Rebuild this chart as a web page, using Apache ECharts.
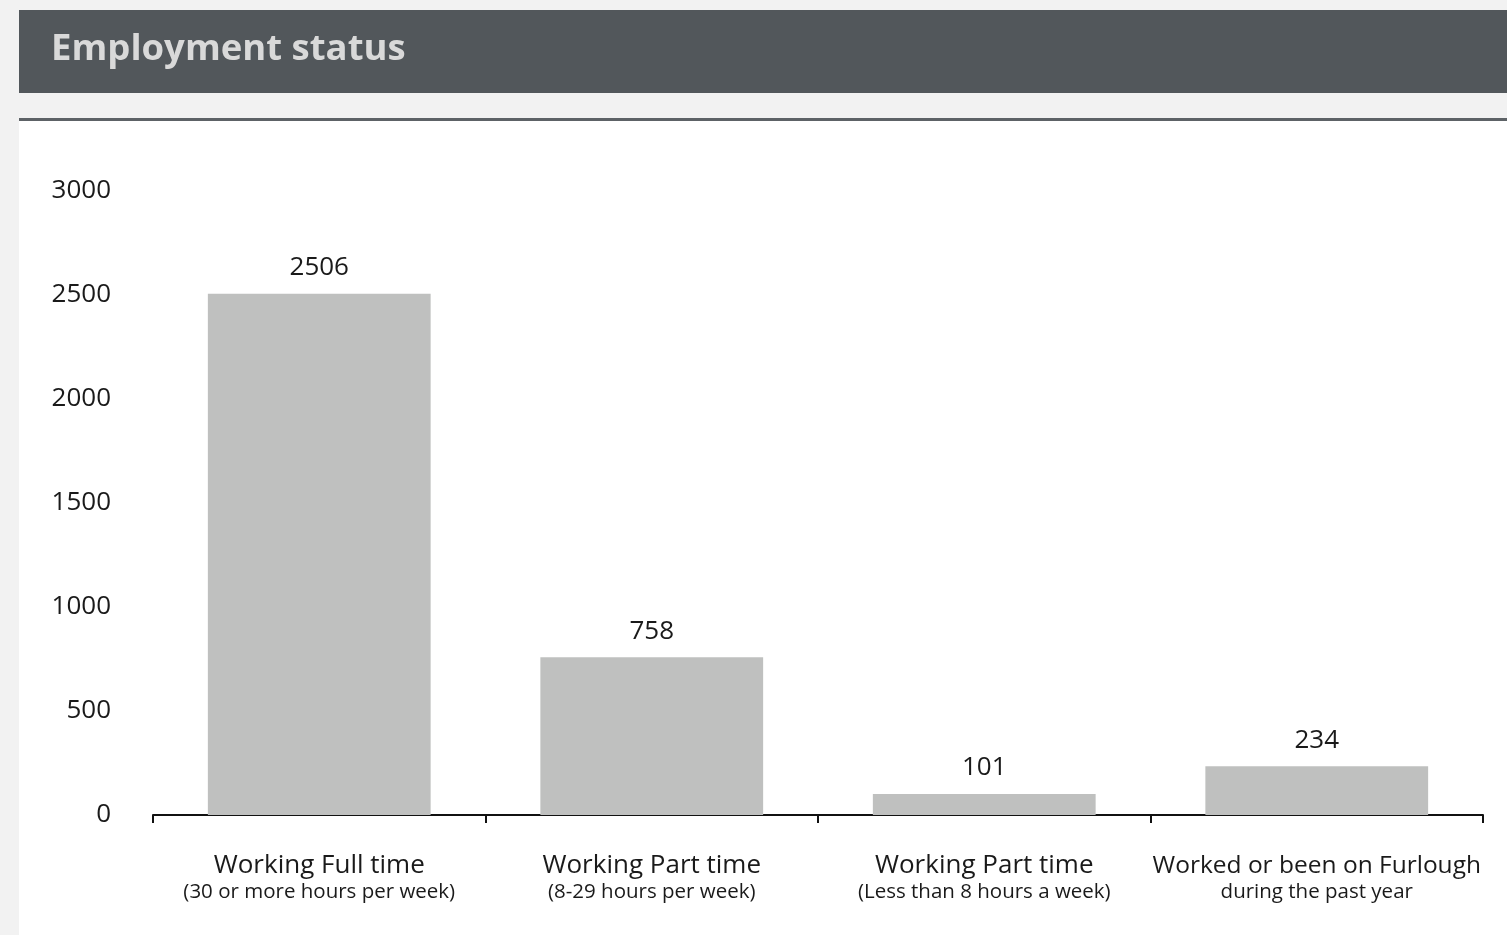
<!DOCTYPE html>
<html>
<head>
<meta charset="utf-8">
<script src="https://cdn.jsdelivr.net/npm/echarts@6/dist/echarts.min.js"></script>
<style>
html,body{margin:0;padding:0;background:#f2f2f2;}
#chart{width:1507px;height:935px;}
</style>
</head>
<body>
<div id="chart"></div>
<script>
const titleText = 'Employment status';
const categories = ['Working Full time', 'Working Part time', 'Working Part time', 'Worked or been on Furlough'];
const subLabels = ['(30 or more hours per week)', '(8-29 hours per week)', '(Less than 8 hours a week)', 'during the past year'];
const values = [2506, 758, 101, 234];
const yTicks = [0, 500, 1000, 1500, 2000, 2500, 3000];

const chart = echarts.init(document.getElementById('chart'), null, {renderer: 'canvas'});
const font = '"Open Sans", sans-serif';
chart.setOption({
  backgroundColor: '#f2f2f2',
  animation: false,
  graphic: [
    {type: 'rect', z: -10, shape: {x: 19, y: 10, width: 1488, height: 83}, style: {fill: '#52575b'}},
    {type: 'rect', z: -10, shape: {x: 19, y: 121, width: 1488, height: 814}, style: {fill: '#ffffff'}},
    {type: 'rect', z: -10, shape: {x: 19, y: 118, width: 1488, height: 3}, style: {fill: '#5d6266'}},
    {type: 'text', z: 10, left: 51, top: 31, style: {text: titleText, fill: '#d9d9d9', font: 'bold 36.5px "Open Sans", sans-serif'}}
  ],
  grid: {left: 153, right: 24, top: 191, bottom: 120, containLabel: false},
  xAxis: {
    type: 'category',
    data: categories.map((c, i) => c + '\n' + subLabels[i]),
    axisLine: {lineStyle: {color: '#111', width: 2}},
    axisTick: {show: true, alignWithLabel: false, length: 8, lineStyle: {color: '#111', width: 2}},
    axisLabel: {
      interval: 0,
      margin: 37,
      color: '#1a1a1a',
      fontFamily: font,
      formatter: function (v, i) {
        const p = v.split('\n');
        const key = p[0].length > 20 ? 'c' : 'a';
        return '{' + key + '|' + p[0] + '}\n{b|' + p[1] + '}';
      },
      rich: {
        a: {fontSize: 26, fontFamily: font, color: '#1a1a1a', lineHeight: 28},
        c: {fontSize: 24.5, fontFamily: font, color: '#1a1a1a', lineHeight: 28},
        b: {fontSize: 20.5, fontFamily: font, color: '#1a1a1a', lineHeight: 24}
      }
    }
  },
  yAxis: {
    type: 'value',
    min: yTicks[0],
    max: yTicks[yTicks.length - 1],
    interval: 500,
    axisLine: {show: false},
    axisTick: {show: false},
    splitLine: {show: false},
    axisLabel: {margin: 42, fontSize: 26, fontFamily: font, color: '#1a1a1a', formatter: v => String(v)}
  },
  series: [{
    type: 'bar',
    data: values,
    barCategoryGap: '33%',
    itemStyle: {color: '#bfc0bf'},
    label: {show: true, position: 'top', distance: 13, fontSize: 26, fontFamily: font, color: '#1a1a1a'}
  }]
});
</script>
</body>
</html>
